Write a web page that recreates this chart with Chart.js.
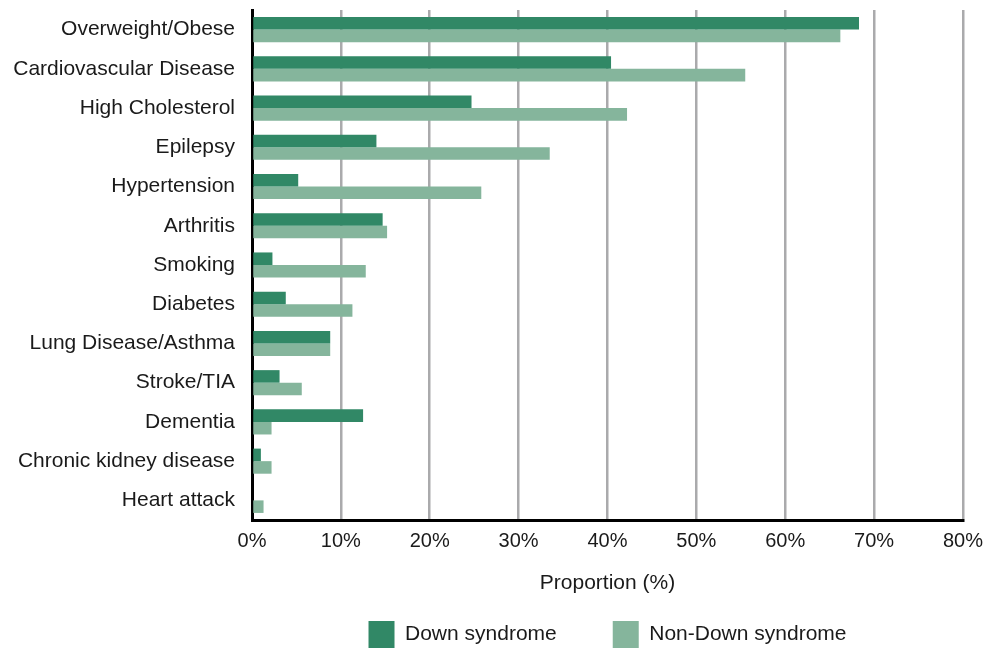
<!DOCTYPE html>
<html>
<head>
<meta charset="utf-8">
<script src="https://cdn.jsdelivr.net/npm/chart.js@4"></script>
<style>
  html, body { margin: 0; padding: 0; background: #fff; }
  #wrap { width: 992px; height: 648px; position: relative; }
</style>
</head>
<body>
<div id="wrap"><canvas id="chart"></canvas></div>
<script>
const categories = [
    "Overweight/Obese", "Cardiovascular Disease", "High Cholesterol", "Epilepsy",
    "Hypertension", "Arthritis", "Smoking", "Diabetes", "Lung Disease/Asthma",
    "Stroke/TIA", "Dementia", "Chronic kidney disease", "Heart attack"
];
const down_syndrome = [68.3, 40.4, 24.7, 14.0, 5.2, 14.7, 2.3, 3.8, 8.8, 3.1, 12.5, 1.0, 0];
const non_down_syndrome = [66.2, 55.5, 42.2, 33.5, 25.8, 15.2, 12.8, 11.3, 8.8, 5.6, 2.2, 2.2, 1.3];
const x_ticks = [0, 10, 20, 30, 40, 50, 60, 70, 80];

const font_family = "'Liberation Sans', Arial, sans-serif";
const text_color = "#1a1a1a";

// keep the legend centred under the plot area, as in the original
const centerLegend = {
    id: "centerLegend",
    afterLayout(chart) {
        const lg = chart.legend;
        const shift = (chart.chartArea.left + chart.chartArea.right) / 2 - (lg.left + lg.right) / 2;
        lg.left += shift;
        lg.right += shift;
    }
};

new Chart("chart", {
    type: "bar",
    data: {
        labels: categories,
        datasets: [{
            label: "Down syndrome",
            data: down_syndrome,
            backgroundColor: "#318866",
            categoryPercentage: 0.64,
            barPercentage: 1.0
        }, {
            label: "Non-Down syndrome",
            data: non_down_syndrome,
            backgroundColor: "#85b59c",
            categoryPercentage: 0.64,
            barPercentage: 1.0
        }]
    },
    options: {
        indexAxis: "y",
        responsive: true,
        maintainAspectRatio: false,
        animation: false,
        layout: { padding: { top: 10, right: 27, left: 0, bottom: -10 } },
        scales: {
            x: {
                min: 0,
                max: 80,
                afterBuildTicks: (scale) => { scale.ticks = x_ticks.map(v => ({ value: v })); },
                ticks: {
                    callback: (v) => v + "%",
                    color: text_color,
                    font: { family: font_family, size: 20 },
                    padding: 9
                },
                grid: { color: "#aaaaac", lineWidth: 2.5, drawTicks: false },
                border: { display: true, color: "#000", width: 3 },
                title: {
                    display: true,
                    text: "Proportion (%)",
                    color: text_color,
                    font: { family: font_family, size: 21 },
                    padding: { top: 0, bottom: -31 }
                },
                afterFit: (scale) => { scale.height = 45; }
            },
            y: {
                z: 1,
                grid: { display: false, drawTicks: false },
                border: { display: true, color: "#000", width: 3 },
                ticks: {
                    color: text_color,
                    font: { family: font_family, size: 21 },
                    padding: 17
                },
                afterFit: (scale) => {
                    scale.width = 252;
                    scale.paddingTop = 0;
                    scale.paddingBottom = 0;
                }
            }
        },
        plugins: {
            tooltip: { enabled: false },
            legend: {
                position: "bottom",
                labels: {
                    boxWidth: 26,
                    boxHeight: 27,
                    padding: 56,
                    color: text_color,
                    font: { family: font_family, size: 21 }
                }
            }
        }
    },
    plugins: [centerLegend]
});
</script>
</body>
</html>
